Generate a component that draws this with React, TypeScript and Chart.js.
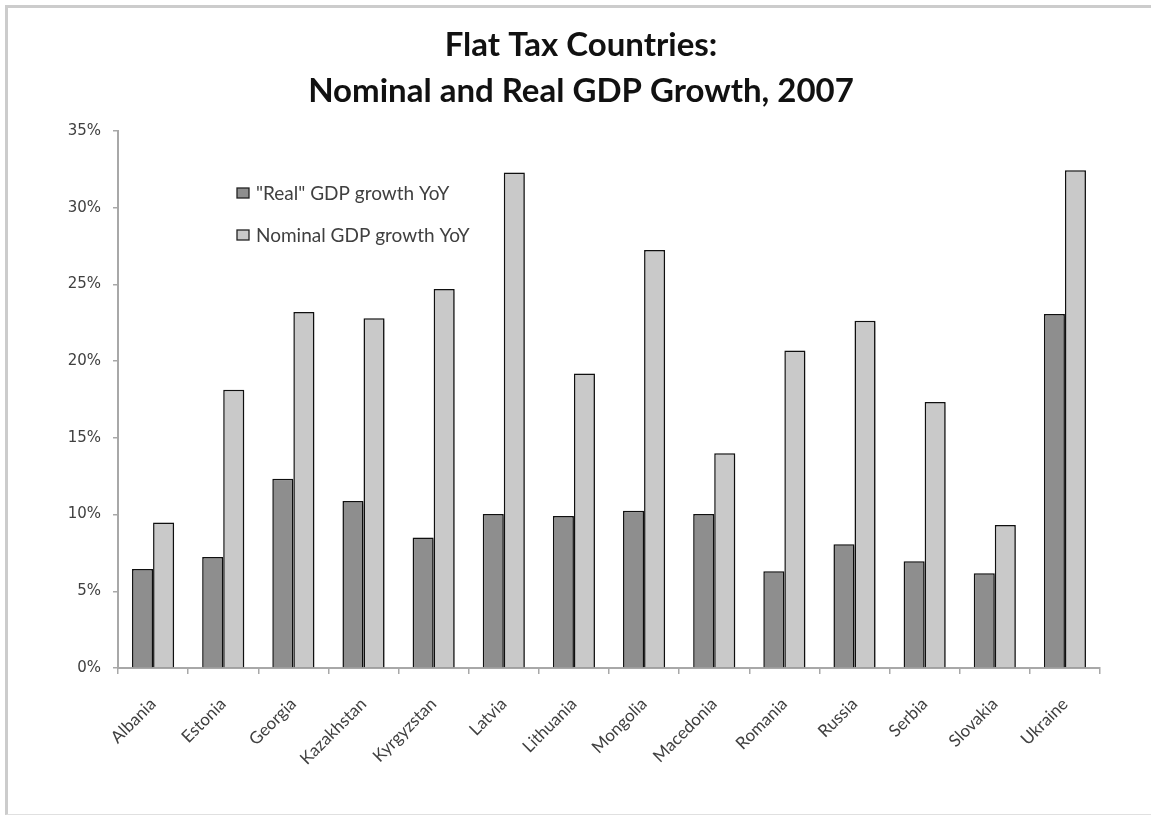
import React, { useEffect, useRef } from "react";
import { Chart, registerables } from "chart.js";

Chart.register(...registerables);

const countries = [
  "Albania", "Estonia", "Georgia", "Kazakhstan", "Kyrgyzstan", "Latvia", "Lithuania",
  "Mongolia", "Macedonia", "Romania", "Russia", "Serbia", "Slovakia", "Ukraine",
];
const realGrowth = [6.45, 7.24, 12.34, 10.89, 8.51, 10.04, 9.9, 10.25, 10.04, 6.3, 8.06, 6.95, 6.17, 23.08];
const nominalGrowth = [9.49, 18.14, 23.2, 22.8, 24.7, 32.3, 19.2, 27.25, 14.0, 20.7, 22.64, 17.34, 9.32, 32.44];
const seriesLabels = ["\"Real\" GDP growth YoY", "Nominal GDP growth YoY"];
const titleLines = ["Flat Tax Countries:", "Nominal and Real GDP Growth, 2007"];

const FONT = "Lato, 'Open Sans', sans-serif";

const chartTitle = {
  id: "chartTitle",
  afterDraw(chart: any) {
    const ctx = chart.ctx;
    ctx.save();
    ctx.fillStyle = "#111";
    ctx.font = "bold 33px " + FONT;
    ctx.textAlign = "center";
    ctx.textBaseline = "middle";
    titleLines.forEach((line, i) => {
      ctx.fillText(line, 581, 45 + i * 46);
    });
    ctx.restore();
  },
};

const insideLegend = {
  id: "insideLegend",
  afterDraw(chart: any) {
    const { ctx, chartArea } = chart;
    const x = chartArea.left + 119;
    const y0 = chartArea.top + 62;
    ctx.save();
    chart.data.datasets.forEach((ds: any, i: number) => {
      const y = y0 + i * 42;
      ctx.fillStyle = ds.backgroundColor;
      ctx.strokeStyle = "#222";
      ctx.lineWidth = 1.3;
      ctx.fillRect(x, y - 5, 12, 10);
      ctx.strokeRect(x, y - 5, 12, 10);
      ctx.fillStyle = "#404040";
      ctx.font = "19px " + FONT;
      ctx.textBaseline = "middle";
      ctx.textAlign = "left";
      ctx.fillText(ds.label, x + 19, y + 1);
    });
    ctx.restore();
  },
};

const barShadow = {
  id: "barShadow",
  beforeDatasetsDraw(chart: any) {
    const ctx = chart.ctx;
    ctx.save();
    ctx.shadowColor = "rgba(0,0,0,0.35)";
    ctx.shadowBlur = 3;
    ctx.shadowOffsetX = 1.5;
    ctx.shadowOffsetY = 1.5;
  },
  afterDatasetsDraw(chart: any) {
    chart.ctx.restore();
  },
};

export default function App() {
  const ref = useRef<HTMLCanvasElement | null>(null);
  useEffect(() => {
    if (!ref.current) return;
    const chart = new Chart(ref.current, {
      type: "bar",
      data: {
        labels: countries,
        datasets: [
          {
            label: seriesLabels[0],
            data: realGrowth,
            backgroundColor: "#8e8e8e",
            borderColor: "#111",
            borderWidth: 1.5,
            barPercentage: 1.0,
            categoryPercentage: 0.6,
          },
          {
            label: seriesLabels[1],
            data: nominalGrowth,
            backgroundColor: "#c9c9c9",
            borderColor: "#111",
            borderWidth: 1.5,
            barPercentage: 1.0,
            categoryPercentage: 0.6,
          },
        ],
      },
      options: {
        responsive: false,
        animation: false,
        layout: { padding: { left: 20, right: 51, top: 131, bottom: 40 } },
        plugins: {
          legend: { display: false },
          tooltip: { enabled: false },
          title: { display: false },
        },
        scales: {
          x: {
            afterFit: (s: any) => { s.height = 110; },
            grid: {
              display: true,
              offset: true,
              drawOnChartArea: false,
              drawTicks: true,
              tickLength: 6,
              color: "#a8a8a8",
              lineWidth: 1.5,
            },
            border: { display: true, color: "#a8a8a8", width: 2 },
            ticks: {
              maxRotation: 45,
              minRotation: 45,
              color: "#404040",
              font: { family: FONT, size: 17 },
              padding: 20,
              autoSkip: false,
            },
          },
          y: {
            min: 0,
            max: 35,
            afterFit: (s: any) => { s.width = 98; },
            grid: {
              display: true,
              drawOnChartArea: false,
              drawTicks: true,
              tickLength: 5,
              color: "#a8a8a8",
              lineWidth: 1.5,
            },
            border: { display: true, color: "#a8a8a8", width: 2 },
            ticks: {
              stepSize: 5,
              color: "#404040",
              font: { family: "'DejaVu Sans', sans-serif", size: 15 },
              padding: 12,
              callback: (v: any) => v + "%",
            },
          },
        },
      },
      plugins: [chartTitle, insideLegend, barShadow],
    });
    return () => chart.destroy();
  }, []);

  return (
    <div
      style={{
        position: "absolute",
        left: 0,
        top: 0,
        width: 1151,
        height: 818,
        background: "#fff",
      }}
    >
      <div
        style={{
          position: "absolute",
          left: 5,
          top: 5,
          width: 1146,
          height: 810,
          borderTop: "3px solid #cccccc",
          borderLeft: "3px solid #cccccc",
          borderBottom: "1px solid #e0e0e0",
          boxSizing: "border-box",
        }}
      />
      <canvas ref={ref} width={1151} height={818} style={{ position: "absolute", left: 0, top: 0 }} />
    </div>
  );
}
